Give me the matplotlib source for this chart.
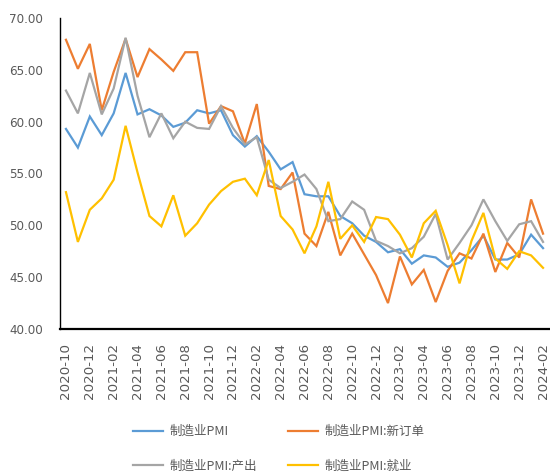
import matplotlib
matplotlib.use("Agg")
import matplotlib.pyplot as plt

months = ["2020-10","2020-11","2020-12","2021-01","2021-02","2021-03","2021-04","2021-05",
          "2021-06","2021-07","2021-08","2021-09","2021-10","2021-11","2021-12","2022-01",
          "2022-02","2022-03","2022-04","2022-05","2022-06","2022-07","2022-08","2022-09",
          "2022-10","2022-11","2022-12","2023-01","2023-02","2023-03","2023-04","2023-05",
          "2023-06","2023-07","2023-08","2023-09","2023-10","2023-11","2023-12","2024-01",
          "2024-02"]

pmi = [59.3, 57.5, 60.5, 58.7, 60.8, 64.7, 60.7, 61.2, 60.6, 59.5, 59.9, 61.1, 60.8, 61.1,
       58.7, 57.6, 58.6, 57.1, 55.4, 56.1, 53.0, 52.8, 52.8, 50.9, 50.2, 49.0, 48.4, 47.4,
       47.7, 46.3, 47.1, 46.9, 46.0, 46.4, 47.6, 49.0, 46.7, 46.7, 47.2, 49.1, 47.8]

new_orders = [67.9, 65.1, 67.5, 61.1, 64.8, 68.0, 64.3, 67.0, 66.0, 64.9, 66.7, 66.7, 59.8,
              61.5, 61.0, 57.9, 61.7, 53.8, 53.5, 55.1, 49.2, 48.0, 51.3, 47.1, 49.2, 47.2,
              45.2, 42.5, 47.0, 44.3, 45.7, 42.6, 45.6, 47.3, 46.8, 49.2, 45.5, 48.3, 46.9,
              52.5, 49.2]

production = [63.0, 60.8, 64.7, 60.7, 63.2, 68.1, 62.5, 58.5, 60.8, 58.4, 60.0, 59.4, 59.3,
              61.5, 59.4, 57.8, 58.5, 54.4, 53.6, 54.2, 54.9, 53.5, 50.4, 50.6, 52.3, 51.5,
              48.5, 48.0, 47.3, 47.8, 48.9, 51.1, 46.7, 48.3, 50.0, 52.5, 50.4, 48.5, 50.1,
              50.4, 48.4]

employment = [53.2, 48.4, 51.5, 52.6, 54.4, 59.6, 55.1, 50.9, 49.9, 52.9, 49.0, 50.2, 52.0,
              53.3, 54.2, 54.5, 52.9, 56.3, 50.9, 49.6, 47.3, 49.9, 54.2, 48.7, 50.0, 48.4,
              50.8, 50.6, 49.1, 46.9, 50.2, 51.4, 48.1, 44.4, 48.5, 51.2, 46.8, 45.8, 47.5,
              47.1, 45.9]

labels = ["制造业PMI", "制造业PMI:新订单", "制造业PMI:产出", "制造业PMI:就业"]
colors = ["#5B9BD5", "#ED7D31", "#A5A5A5", "#FFC000"]
yticks = [40, 45, 50, 55, 60, 65, 70]

plt.rcParams['font.family'] = ['DejaVu Sans']
fig = plt.figure(figsize=(5.5, 4.76), dpi=100)
ax = fig.add_axes([60/550, 1-329/476, 489/550, 311/476])

x = list(range(len(months)))
for series, lab, col in zip([pmi, new_orders, production, employment], labels, colors):
    ax.plot(x, series, color=col, lw=1.6, label=lab, solid_joinstyle='miter')

ax.set_xlim(-0.5, len(months) - 0.5)
ax.set_ylim(40, 70)
ax.set_yticks(yticks)
ax.set_yticklabels([f"{v:.2f}" for v in yticks], fontsize=8.6, color="#595959")
ax.set_xticks(x[::2])
ax.set_xticklabels(months[::2], rotation=90, fontsize=9.6, color="#595959")
ax.tick_params(axis='both', length=0)
ax.tick_params(axis='x', pad=10)
ax.tick_params(axis='y', pad=12)
for s in ["top", "right"]:
    ax.spines[s].set_visible(False)
ax.spines["left"].set_color("black")
ax.spines["bottom"].set_color("black")
ax.spines["left"].set_linewidth(1.0)
ax.spines["bottom"].set_linewidth(1.6)

handles, labs = ax.get_legend_handles_labels()
order = [0, 2, 1, 3]
leg = fig.legend([handles[i] for i in order], [labs[i] for i in order],
                 loc='center', bbox_to_anchor=(0.507, 0.057), ncol=2,
                 frameon=False, prop={'family': ['Noto Sans CJK SC', 'DejaVu Sans'], 'size': 9.0},
                 handlelength=2.4, handletextpad=0.5, columnspacing=2.5, labelspacing=1.75)
for t in leg.get_texts():
    t.set_color("#595959")

fig.savefig("out.png", dpi=100)
